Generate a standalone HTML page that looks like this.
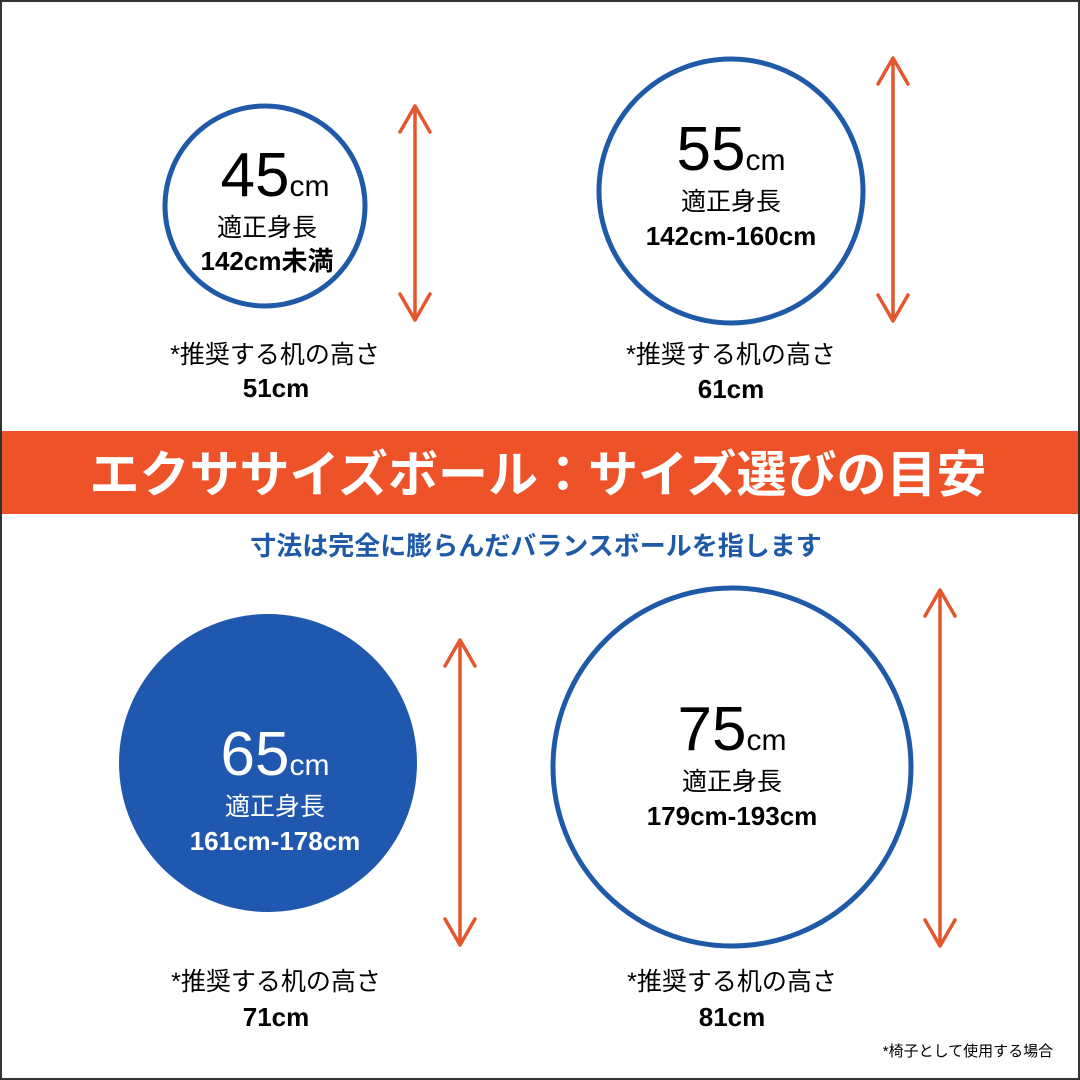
<!DOCTYPE html>
<html><head><meta charset="utf-8"><style>
html,body{margin:0;padding:0;background:#fff}
svg{display:block}
text{font-family:"Liberation Sans","Noto Sans CJK JP",sans-serif;text-anchor:middle}
.b{font-weight:bold}
</style></head><body>
<svg width="1080" height="1080" viewBox="0 0 1080 1080">
<rect x="1" y="1" width="1078" height="1078" fill="#fff" stroke="#333" stroke-width="2"/>
<circle cx="265" cy="206" r="100" fill="none" stroke="#1f5aa8" stroke-width="5"/>
<circle cx="731" cy="191" r="132" fill="none" stroke="#1f5aa8" stroke-width="5"/>
<circle cx="268" cy="763" r="149" fill="#1f58ae"/>
<circle cx="732" cy="767" r="179" fill="none" stroke="#1f5aa8" stroke-width="5"/>
<g fill="none" stroke="#e4572e" stroke-width="3.5" stroke-linecap="round" stroke-linejoin="round">
<path d="M415 106V320M400 132L415 106L430 132M400 294L415 320L430 294"/>
<path d="M893 58V321M878 84L893 58L908 84M878 295L893 321L908 295"/>
<path d="M460 640V945M445 666L460 640L475 666M445 919L460 945L475 919"/>
<path d="M940 590V946M925 616L940 590L955 616M925 920L940 946L955 920"/>
</g>
<rect x="2" y="431" width="1076" height="83" fill="#ee5228"/>
<text x="538" y="492" font-size="50" class="b" fill="#fff" font-family="'Noto Sans CJK JP',sans-serif">エクササイズボール：サイズ選びの目安</text>
<text x="536" y="555" font-size="26" class="b" fill="#1f5aa8">寸法は完全に膨らんだバランスボールを指します</text>
<text x="275" y="196"><tspan font-size="62">45</tspan><tspan font-size="30">cm</tspan></text>
<text x="267" y="236" font-size="25">適正身長</text>
<text x="267" y="270" font-size="26" class="b">142cm未満</text>
<text x="275" y="363" font-size="25">*推奨する机の高さ</text>
<text x="276" y="397" font-size="26" class="b">51cm</text>
<text x="731" y="170"><tspan font-size="62">55</tspan><tspan font-size="30">cm</tspan></text>
<text x="731" y="210" font-size="25">適正身長</text>
<text x="731" y="245" font-size="26" class="b">142cm-160cm</text>
<text x="731" y="363" font-size="25">*推奨する机の高さ</text>
<text x="731" y="398" font-size="26" class="b">61cm</text>
<text x="275" y="775" fill="#fff"><tspan font-size="62">65</tspan><tspan font-size="30">cm</tspan></text>
<text x="275" y="815" font-size="25" fill="#fff">適正身長</text>
<text x="275" y="850" font-size="26" class="b" fill="#fff">161cm-178cm</text>
<text x="276" y="990" font-size="25">*推奨する机の高さ</text>
<text x="276" y="1026" font-size="26" class="b">71cm</text>
<text x="732" y="750"><tspan font-size="62">75</tspan><tspan font-size="30">cm</tspan></text>
<text x="732" y="790" font-size="25">適正身長</text>
<text x="732" y="825" font-size="26" class="b">179cm-193cm</text>
<text x="732" y="990" font-size="25">*推奨する机の高さ</text>
<text x="732" y="1026" font-size="26" class="b">81cm</text>
<text x="968" y="1056" font-size="15">*椅子として使用する場合</text>
</svg>
</body></html>
